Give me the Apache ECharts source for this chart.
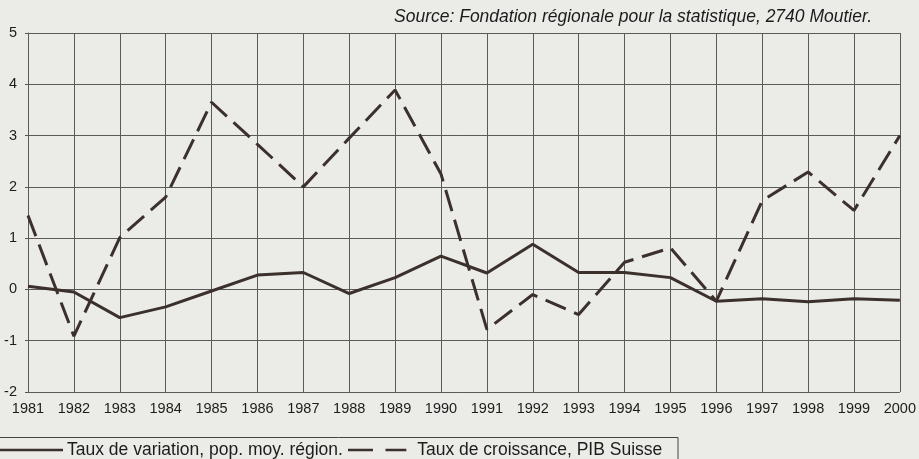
<!DOCTYPE html>
<html>
<head>
<meta charset="utf-8">
<script src="https://cdn.jsdelivr.net/npm/echarts@6/dist/echarts.min.js"></script>
<style>
html,body{margin:0;padding:0;background:#ebebe8;}
#c{width:919px;height:459px;}
</style>
</head>
<body>
<div id="c"></div>
<script>
var years = ['1981','1982','1983','1984','1985','1986','1987','1988','1989','1990','1991','1992','1993','1994','1995','1996','1997','1998','1999','2000'];
var popVariation = [0.06,-0.05,-0.55,-0.34,-0.03,0.28,0.33,-0.08,0.23,0.65,0.32,0.88,0.33,0.33,0.23,-0.23,-0.18,-0.24,-0.18,-0.21];
var pibSuisse = [1.44,-0.91,1.01,1.8,3.65,2.83,2.0,2.95,3.89,2.25,-0.78,-0.1,-0.49,0.53,0.81,-0.23,1.73,2.29,1.54,3.0];
var seriesNames = ['Taux de variation, pop. moy. région.','Taux de croissance, PIB Suisse'];
var sourceText = 'Source: Fondation régionale pour la statistique, 2740 Moutier.';

var lineColor = '#3b302c';
var txtColor = '#1c1c1c';
var chart = echarts.init(document.getElementById('c'));
chart.setOption({
  backgroundColor: '#ebebe8',
  animation: false,
  textStyle: {fontFamily: 'Liberation Sans, Arial, sans-serif'},
  title: {
    text: sourceText,
    right: 42, top: 3,
    textStyle: {fontSize: 17.5, fontStyle: 'italic', fontWeight: 'normal', color: txtColor}
  },
  graphic: [{
    type: 'rect', silent: true, z: -1,
    shape: {x: -5, y: 437.5, width: 683, height: 30},
    style: {fill: 'none', stroke: '#444', lineWidth: 1}
  }],
  grid: {left: 28, right: 18, top: 33, bottom: 67},
  legend: [
    {
      left: 0, top: 441, padding: 0,
      itemGap: 0, itemWidth: 63, itemHeight: 2.5,
      textStyle: {fontSize: 17.5, color: txtColor, padding: [0,0,0,-1]},
      data: [{name: seriesNames[0], icon: 'rect'}]
    },
    {
      left: 348, top: 441, padding: 0,
      itemGap: 0, itemWidth: 70, itemHeight: 2.5,
      textStyle: {fontSize: 17.5, color: txtColor, padding: [0,0,0,0]},
      data: [{name: seriesNames[1], icon: 'path://M0,0H30V3H0Z M45,0H70V3H45Z'}]
    }
  ],
  xAxis: {
    type: 'category',
    data: years,
    boundaryGap: false,
    axisLine: {show: false},
    axisTick: {show: true, length: 3, lineStyle: {color: '#555'}},
    axisLabel: {fontSize: 14.5, color: txtColor, margin: 9, interval: 0},
    splitLine: {show: true, lineStyle: {color: '#5a5a5a', width: 1}}
  },
  yAxis: {
    type: 'value',
    min: -2, max: 5, interval: 1,
    axisLine: {show: true, lineStyle: {color: '#5a5a5a'}},
    axisTick: {show: true, length: 3, lineStyle: {color: '#555'}},
    axisLabel: {fontSize: 14.5, color: txtColor, margin: 11},
    splitLine: {show: true, lineStyle: {color: '#5a5a5a', width: 1}}
  },
  series: [
    {
      name: seriesNames[0], type: 'line', data: popVariation,
      symbol: 'none', z: 3,
      lineStyle: {color: lineColor, width: 3},
      itemStyle: {color: lineColor}
    },
    {
      name: seriesNames[1], type: 'line', data: pibSuisse,
      symbol: 'none', z: 4,
      lineStyle: {color: lineColor, width: 3, type: [22, 9]},
      itemStyle: {color: lineColor}
    }
  ]
});
</script>
</body>
</html>
